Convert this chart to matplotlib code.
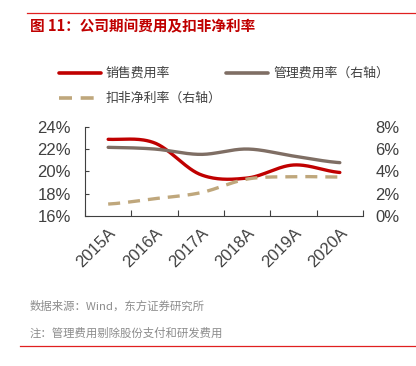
import numpy as np
import matplotlib
matplotlib.use("Agg")
import matplotlib.pyplot as plt
from matplotlib.lines import Line2D
import matplotlib.transforms as mtransforms

plt.rcParams['font.family'] = ['Liberation Sans', 'Noto Sans CJK SC', 'DejaVu Sans']

categories = ['2015A', '2016A', '2017A', '2018A', '2019A', '2020A']
sales_rate = [22.87, 22.55, 19.7, 19.4, 20.57, 19.9]       # left axis, %
admin_rate = [6.15, 6.0, 5.52, 6.0, 5.37, 4.78]            # right axis, %
net_margin = [1.07, 1.55, 2.09, 3.31, 3.52, 3.49]          # right axis, %

left_ticks = [16, 18, 20, 22, 24]
right_ticks = [0, 2, 4, 6, 8]

title = '图 11：公司期间费用及扣非净利率'
source = '数据来源：Wind，东方证券研究所'
note = '注：管理费用剔除股份支付和研发费用'

RED = '#C00000'
GREY = '#7F6E64'
TAN = '#BFA77C'
TXT = '#404040'
CJK = ['Noto Sans CJK SC', 'DejaVu Sans']


def smooth(y, n=30):
    """Catmull-Rom smoothing for display only (like Excel smoothed lines)."""
    y = np.asarray(y, float)
    x = np.arange(len(y), dtype=float)
    P = np.concatenate([[y[0]], y, [y[-1]]])
    xs, ys = [], []
    for i in range(len(y) - 1):
        p0, p1, p2, p3 = P[i], P[i + 1], P[i + 2], P[i + 3]
        t = np.linspace(0, 1, n, endpoint=(i == len(y) - 2))
        yy = 0.5 * ((2 * p1) + (-p0 + p2) * t + (2 * p0 - 5 * p1 + 4 * p2 - p3) * t ** 2
                    + (-p0 + 3 * p1 - 3 * p2 + p3) * t ** 3)
        xs.append(x[i] + t)
        ys.append(yy)
    return np.concatenate(xs), np.concatenate(ys)


fig = plt.figure(figsize=(4.16, 3.66), dpi=100)
ax = fig.add_axes([85 / 416, 1 - 216 / 366, (363 - 85) / 416, (216 - 126.7) / 366])
ax2 = ax.twinx()

xs, ys = smooth(sales_rate)
ax.plot(xs, ys, color=RED, lw=2.4, solid_capstyle='round', zorder=3)
xs, ys = smooth(admin_rate)
ax2.plot(xs, ys, color=GREY, lw=2.4, solid_capstyle='round', zorder=3)
xs, ys = smooth(net_margin)
ax2.plot(xs, ys, color=TAN, lw=2.4, dashes=(3.6, 2.4), zorder=2)

x = np.arange(len(categories))
ax.set_xlim(-0.5, len(categories) - 0.5)
ax.set_ylim(16, 24)
ax2.set_ylim(0, 8)
ax.set_yticks(left_ticks)
ax.set_yticklabels([f'{v}%' for v in left_ticks])
ax2.set_yticks(right_ticks)
ax2.set_yticklabels([f'{v}%' for v in right_ticks])

ax.set_xticks(x)
ax.set_xticklabels(categories, rotation=45, ha='right', rotation_mode='anchor')
off = mtransforms.ScaledTranslation(4 / 100, 0, fig.dpi_scale_trans)
for lab in ax.get_xticklabels():
    lab.set_transform(lab.get_transform() + off)
ax.set_xticks(np.arange(len(categories) + 1) - 0.5, minor=True)
ax.tick_params(axis='x', which='major', length=0, pad=7, labelsize=12, colors=TXT)
ax.tick_params(axis='x', which='minor', direction='in', length=4, color=TXT, width=0.8)
ax.tick_params(axis='y', direction='in', length=3, labelsize=12, colors=TXT, width=0.8, pad=10)
ax2.tick_params(axis='y', length=0, labelsize=12, colors=TXT, pad=9)

for s in ['top', 'right']:
    ax.spines[s].set_visible(False)
for s in ['top', 'right', 'left', 'bottom']:
    ax2.spines[s].set_visible(False)
for s in ['left', 'bottom']:
    ax.spines[s].set_color(TXT)
    ax.spines[s].set_linewidth(0.8)

# Title and decorative rules
fig.add_artist(Line2D([27 / 416, 1.0], [1 - 13 / 366] * 2, color='#E02020', lw=0.9))
fig.text(30 / 416, 1 - 26 / 366, title, color=RED, fontsize=10.5, fontweight='bold',
         va='center', ha='left', family=CJK)
fig.add_artist(Line2D([20 / 416, 1.0], [1 - 346 / 366] * 2, color='#E02020', lw=0.9))


# Legend (manual)
def leg_item(x0, y0, color, label, dashed=False):
    yy = 1 - y0 / 366
    kw = dict(dashes=(3.6, 2.4)) if dashed else dict(solid_capstyle='round')
    fig.add_artist(Line2D([x0 / 416, (x0 + 42) / 416], [yy, yy], color=color, lw=2.6, **kw))
    fig.text((x0 + 47) / 416, yy, label, fontsize=9.3, color=TXT, va='center', ha='left',
             family=CJK)


leg_item(59, 73, RED, '销售费用率')
leg_item(226, 73, GREY, '管理费用率（右轴）')
leg_item(59, 98, TAN, '扣非净利率（右轴）', dashed=True)

fig.text(30 / 416, 1 - 306 / 366, source, fontsize=8.2, color='#8C8C8C', va='center', ha='left',
         family=CJK)
fig.text(30 / 416, 1 - 333 / 366, note, fontsize=8.2, color='#8C8C8C', va='center', ha='left',
         family=CJK)

fig.savefig('out.png', dpi=100, facecolor='white')
